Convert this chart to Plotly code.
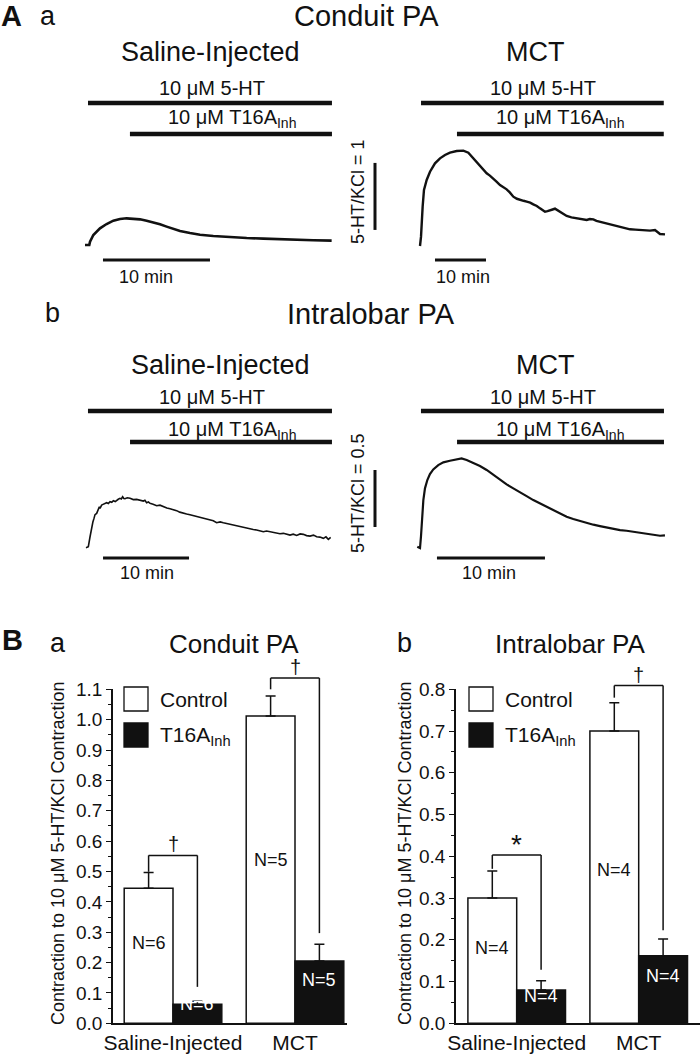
import plotly.graph_objects as go

W, H = 700, 1055
FONT = "Liberation Sans, Arial, Helvetica, sans-serif"
INK = "#111111"

# ---------------- Panel A data: isometric tension traces ----------------
# time in min from 5-HT addition, contraction as 5-HT/KCl ratio
aa_sal_time = [0, 0.40, 0.47, 0.78, 1.40, 2.02, 2.65, 3.27, 3.89, 4.52, 5.14, 5.76, 6.39, 7.01,
               7.63, 8.26, 8.88, 9.81, 10.75, 11.99, 13.55, 15.11, 16.67, 18.22, 19.78, 21.34, 23.05]
aa_sal_ratio = [0.0, 0.0, 0.05, 0.149, 0.249, 0.313, 0.363, 0.388, 0.398, 0.393, 0.383, 0.363, 0.338, 0.308,
                0.274, 0.239, 0.209, 0.179, 0.154, 0.134, 0.114, 0.104, 0.095, 0.085, 0.075, 0.070, 0.065]

aa_mct_time = [0, 0.20, 0.52, 0.78, 1.31, 1.96, 2.94, 3.92, 4.90, 5.88, 7.19, 8.50, 9.48, 10.46, 11.76,
               12.4, 13.07, 13.7, 14.38, 15.0, 15.69, 16.3, 16.99, 17.6, 18.30, 19.0, 19.61, 20.3, 20.92,
               21.6, 22.22, 22.9, 23.53, 24.0, 24.51, 25.0, 25.49, 26.0, 26.47, 27.0, 27.45, 28.1, 28.76,
               29.7, 30.72, 31.7, 32.68, 33.3, 33.99, 34.6, 35.29, 36.3, 37.25, 38.2, 39.22, 40.2, 41.18,
               42.2, 43.14, 44.1, 45.10, 46.08, 46.6, 47.06, 48.04]
aa_mct_ratio = [0.0, 0.139, 0.587, 0.836, 0.985, 1.109, 1.234, 1.308, 1.358, 1.393, 1.418, 1.423, 1.393,
                1.308, 1.184, 1.140, 1.085, 1.050, 1.010, 0.962, 0.910, 0.885, 0.846, 0.800, 0.736, 0.705,
                0.687, 0.675, 0.662, 0.648, 0.622, 0.598, 0.562, 0.540, 0.512, 0.520, 0.527, 0.545, 0.557,
                0.530, 0.512, 0.470, 0.448, 0.428, 0.413, 0.402, 0.388, 0.402, 0.398, 0.376, 0.363, 0.348,
                0.328, 0.312, 0.289, 0.268, 0.249, 0.244, 0.239, 0.236, 0.229, 0.239, 0.205, 0.179, 0.174]

ab_sal_time = [0, 0.15, 0.27, 0.47, 0.66, 0.80, 0.93, 1.05, 1.24, 1.35, 1.43, 1.55, 1.63, 1.72, 1.82, 1.92,
               2.02, 2.2, 2.40, 2.6, 2.79, 3.0, 3.18, 3.4, 3.57, 3.75, 3.95, 4.1, 4.26, 4.4, 4.53, 4.8,
               5.12, 5.5, 5.89, 6.3, 6.67, 6.85, 7.05, 7.25, 7.44, 7.8, 8.22, 8.6, 8.99, 9.4, 9.77, 10.1,
               10.54, 10.9, 11.32, 11.7, 12.09, 12.5, 12.87, 13.25, 13.64, 14.0, 14.42, 14.8, 15.19, 15.6,
               15.97, 16.35, 16.74, 17.1, 17.52, 17.9, 18.29, 18.7, 19.07, 19.45, 19.84, 20.2, 20.62, 21.0,
               21.40, 21.8, 22.17, 22.55, 22.95, 23.3, 23.72, 24.1, 24.50, 24.9, 25.27, 25.65, 26.05,
               26.45, 26.82, 27.2, 27.60, 27.9, 28.18, 28.45]
ab_sal_ratio = [0.0, 0.005, 0.009, 0.096, 0.184, 0.225, 0.257, 0.290, 0.301, 0.322, 0.325, 0.358, 0.345,
                0.365, 0.374, 0.378, 0.383, 0.392, 0.395, 0.388, 0.404, 0.398, 0.412, 0.405, 0.418, 0.425,
                0.433, 0.428, 0.447, 0.432, 0.430, 0.438, 0.433, 0.422, 0.424, 0.414, 0.409, 0.416, 0.395,
                0.401, 0.389, 0.382, 0.368, 0.373, 0.360, 0.348, 0.342, 0.336, 0.325, 0.312, 0.301, 0.296,
                0.289, 0.282, 0.272, 0.268, 0.257, 0.252, 0.243, 0.236, 0.219, 0.226, 0.219, 0.212, 0.208,
                0.199, 0.190, 0.186, 0.178, 0.172, 0.164, 0.160, 0.155, 0.147, 0.140, 0.146, 0.140, 0.134,
                0.132, 0.122, 0.126, 0.118, 0.111, 0.119, 0.108, 0.121, 0.117, 0.106, 0.102, 0.110, 0.096,
                0.093, 0.082, 0.095, 0.073, 0.091]

ab_mct_time = [0, 0.25, 0.34, 0.43, 0.56, 0.71, 0.93, 1.17, 1.48, 1.94, 2.41, 3.02, 3.64, 4.10, 4.57, 5.19,
               5.80, 6.42, 7.04, 7.65, 8.27, 8.89, 9.51, 10.12, 10.74, 11.36, 11.98, 12.59, 13.21, 13.83,
               14.44, 15.06, 15.68, 16.30, 16.91, 17.53, 18.15, 18.77, 19.38, 20.00, 20.62, 21.23, 21.85,
               22.47, 22.93]
ab_mct_ratio = [0.0, -0.012, 0.088, 0.263, 0.409, 0.512, 0.585, 0.637, 0.678, 0.716, 0.740, 0.754, 0.769,
                0.775, 0.760, 0.737, 0.708, 0.673, 0.629, 0.585, 0.547, 0.512, 0.474, 0.444, 0.409, 0.380,
                0.351, 0.322, 0.292, 0.263, 0.243, 0.225, 0.211, 0.193, 0.181, 0.170, 0.155, 0.146, 0.140,
                0.132, 0.123, 0.117, 0.105, 0.096, 0.099]

# drug application windows (min)
aa_sal_5ht, aa_sal_inh = [0.28, 23.08], [4.2, 23.08]
aa_mct_5ht, aa_mct_inh = [0.2, 47.8], [7.25, 47.8]
ab_sal_5ht, ab_sal_inh = [0.23, 28.6], [5.12, 28.6]
ab_mct_5ht, ab_mct_inh = [0.34, 22.84], [3.68, 22.84]

SCALE_TIME = 10          # min
SCALE_RATIO_A = 1.0      # 5-HT/KCl
SCALE_RATIO_B = 0.5

# ---------------- Panel B data: summary bars ----------------
groups = ["Saline-Injected", "MCT"]
group_pos = [0, 1]
ba_ctrl, ba_ctrl_err = [0.445, 1.012], [0.052, 0.066]
ba_inh, ba_inh_err = [0.063, 0.205], [0.010, 0.055]
bb_ctrl, bb_ctrl_err = [0.300, 0.700], [0.065, 0.068]
bb_inh, bb_inh_err = [0.080, 0.162], [0.022, 0.040]
ba_n_ctrl, ba_n_inh = [6, 5], [6, 5]
bb_n_ctrl, bb_n_inh = [4, 4], [4, 4]
ba_sig, bb_sig = ["†", "†"], ["*", "†"]
ba_bracket, bb_bracket = [0.553, 1.137], [0.403, 0.809]
ba_leg_ctrl, ba_leg_inh = [0.499, 1.100], [0.120, 0.297]
bb_leg_ctrl, bb_leg_inh = [0.370, 0.780], [0.128, 0.223]

# ---------------- helpers ----------------
def fx(px):
    return px / W

def fy(py):
    return 1 - py / H

fig = go.Figure()
layout = dict(width=W, height=H, autosize=False, margin=dict(l=0, r=0, t=0, b=0, pad=0, autoexpand=False),
              paper_bgcolor="white", plot_bgcolor="rgba(0,0,0,0)", showlegend=False,
              font=dict(family=FONT, color=INK), barmode="overlay")
shapes, anns = [], []

def ann(text, px, py, size, xanchor="center", yanchor="middle", angle=0, bold=False, color=INK):
    t = f"<b>{text}</b>" if bold else text
    anns.append(dict(text=t, x=fx(px), y=fy(py), xref="paper", yref="paper", showarrow=False,
                     xanchor=xanchor, yanchor=yanchor, textangle=angle,
                     font=dict(size=size, family=FONT, color=color)))

INH = "10 μM T16A<sub>Inh</sub>"

panels = [
    dict(i=1, t=aa_sal_time, v=aa_sal_ratio, box=(80, 340, 140, 275), origin=85, ppm=10.7, base=245, ppu=67,
         d5=aa_sal_5ht, di=aa_sal_inh, dy=(103, 134), sb=1.68, sby=260, lw=2.6),
    dict(i=2, t=aa_mct_time, v=aa_mct_ratio, box=(410, 670, 140, 275), origin=420, ppm=5.1, base=246, ppu=67,
         d5=aa_mct_5ht, di=aa_mct_inh, dy=(103, 134), sb=2.94, sby=260, lw=2.4),
    dict(i=3, t=ab_sal_time, v=ab_sal_ratio, box=(80, 340, 440, 575), origin=86, ppm=8.6, base=547.7, ppu=114,
         d5=ab_sal_5ht, di=ab_sal_inh, dy=(411, 442), sb=1.98, sby=558, lw=1.6),
    dict(i=4, t=ab_mct_time, v=ab_mct_ratio, box=(410, 670, 440, 575), origin=417.3, ppm=10.8, base=546.7, ppu=114,
         d5=ab_mct_5ht, di=ab_mct_inh, dy=(411, 442), sb=1.82, sby=558, lw=2.2),
]

for p in panels:
    i = p["i"]
    x0, x1, y0, y1 = p["box"]
    xa = dict(domain=[fx(x0), fx(x1)], range=[(x0 - p["origin"]) / p["ppm"], (x1 - p["origin"]) / p["ppm"]],
              visible=False, anchor=f"y{i}", fixedrange=True, automargin=False)
    ya = dict(domain=[fy(y1), fy(y0)], range=[(p["base"] - y1) / p["ppu"], (p["base"] - y0) / p["ppu"]],
              visible=False, anchor=f"x{i}", fixedrange=True, automargin=False)
    layout["xaxis" if i == 1 else f"xaxis{i}"] = xa
    layout["yaxis" if i == 1 else f"yaxis{i}"] = ya
    xr = "x" if i == 1 else f"x{i}"
    yr = "y" if i == 1 else f"y{i}"
    fig.add_trace(go.Scatter(x=p["t"], y=p["v"], mode="lines", line=dict(color=INK, width=p["lw"]),
                             xaxis=xr, yaxis=yr, hoverinfo="skip"))
    for win, py in ((p["d5"], p["dy"][0]), (p["di"], p["dy"][1])):
        shapes.append(dict(type="line", xref=xr, yref="paper", x0=win[0], x1=win[1], y0=fy(py), y1=fy(py),
                           line=dict(color=INK, width=4.5)))
    shapes.append(dict(type="line", xref=xr, yref="paper", x0=p["sb"], x1=p["sb"] + SCALE_TIME,
                       y0=fy(p["sby"]), y1=fy(p["sby"]), line=dict(color=INK, width=3)))

shapes.append(dict(type="line", xref="paper", yref="y2", x0=fx(375), x1=fx(375), y0=0.24, y1=0.24 + SCALE_RATIO_A,
                   line=dict(color=INK, width=3)))
shapes.append(dict(type="line", xref="paper", yref="y4", x0=fx(375), x1=fx(375), y0=0.173, y1=0.173 + SCALE_RATIO_B,
                   line=dict(color=INK, width=3)))
ann("5-HT/KCl = 1", 358, 192, 18, angle=-90)
ann("5-HT/KCl = 0.5", 358, 493, 18, angle=-90)

ann("A", 11, 16, 29, bold=True)
ann("a", 48, 16, 27)
ann("Conduit PA", 366, 16, 29)
ann("b", 52, 313, 27)
ann("Intralobar PA", 371, 314, 29)
for (cx, cy, txt) in [(210, 52, "Saline-Injected"), (535, 52, "MCT"), (220, 365, "Saline-Injected"), (545, 365, "MCT")]:
    ann(txt, cx, cy, 27)
for (c5, ci, y5, yi) in [(212, 232, 88, 119), (543, 560, 88, 119), (212, 232, 397, 430), (543, 560, 397, 430)]:
    ann("10 μM 5-HT", c5, y5, 20)
    ann(INH, ci, yi, 20)
for (cx, cy) in [(146, 277), (463, 277), (147, 573), (489, 573)]:
    ann("10 min", cx, cy, 18)

# ---------------- Panel B bar charts ----------------
bar_panels = [
    dict(i=5, ctrl=ba_ctrl, ce=ba_ctrl_err, inh=ba_inh, ie=ba_inh_err, nc=ba_n_ctrl, ni=ba_n_inh,
         sig=ba_sig, br=ba_bracket, lc=ba_leg_ctrl, li=ba_leg_inh, xpx=(113, 347), center0=173,
         yr=[0, 1.1], ytop=689.3, ybot=1023.3, nc_py=[955, 872], ni_py=[1016, 992],
         title="Conduit PA", tcx=234, lab="a", lcx=58, leg_x=124, ytitle_x=58),
    dict(i=6, ctrl=bb_ctrl, ce=bb_ctrl_err, inh=bb_inh, ie=bb_inh_err, nc=bb_n_ctrl, ni=bb_n_inh,
         sig=bb_sig, br=bb_bracket, lc=bb_leg_ctrl, li=bb_leg_inh, xpx=(456, 700), center0=516.7,
         yr=[0, 0.8], ytop=689.3, ybot=1023.3, nc_py=[960, 882], ni_py=[1008, 988],
         title="Intralobar PA", tcx=570, lab="b", lcx=404, leg_x=469, ytitle_x=405),
]
PPU_X = 122.0

for b in bar_panels:
    i = b["i"]
    xr, yr = f"x{i}", f"y{i}"
    xl, xh = b["xpx"]

    def ypaper(v, b=b):
        # same linear scale as the bar y-axis, in paper units (lets brackets sit above the range)
        return fy(b["ybot"] - (v - b["yr"][0]) / (b["yr"][1] - b["yr"][0]) * (b["ybot"] - b["ytop"]))

    layout[f"xaxis{i}"] = dict(domain=[fx(xl), fx(xh)],
                               range=[(xl - b["center0"]) / PPU_X, (xh - b["center0"]) / PPU_X],
                               anchor=yr, showline=True, linecolor=INK, linewidth=1.5, ticks="",
                               tickvals=group_pos, ticktext=groups, tickfont=dict(size=21, family=FONT, color=INK),
                               showgrid=False, zeroline=False, fixedrange=True, automargin=False)
    layout[f"yaxis{i}"] = dict(domain=[fy(b["ybot"]), fy(b["ytop"])], range=b["yr"], anchor=xr,
                               showline=True, linecolor=INK, linewidth=1.5, ticks="outside", ticklen=5,
                               tickwidth=1.3, tickcolor=INK, dtick=0.1, tick0=0, tickformat=".1f",
                               tickfont=dict(size=19, family=FONT, color=INK), showgrid=False, zeroline=False,
                               minor=dict(dtick=0.05, ticks="outside", ticklen=3, tickwidth=1, tickcolor=INK),
                               fixedrange=True, automargin=False)
    fig.add_trace(go.Bar(x=group_pos, y=b["ctrl"], width=0.4, offset=-0.4, xaxis=xr, yaxis=yr,
                         marker=dict(color="white", line=dict(color=INK, width=1.5)),
                         error_y=dict(type="data", symmetric=False, array=b["ce"], arrayminus=[0, 0],
                                      color=INK, thickness=1.5, width=5), hoverinfo="skip"))
    fig.add_trace(go.Bar(x=group_pos, y=b["inh"], width=0.4, offset=0, xaxis=xr, yaxis=yr,
                         marker=dict(color=INK, line=dict(color=INK, width=1.5)),
                         error_y=dict(type="data", symmetric=False, array=b["ie"], arrayminus=[0, 0],
                                      color=INK, thickness=1.5, width=5), hoverinfo="skip"))
    for g in range(2):
        xc, xi = group_pos[g] - 0.2, group_pos[g] + 0.2
        for (a0, a1, c0, c1) in [(xc, xc, b["lc"][g], b["br"][g]), (xc, xi, b["br"][g], b["br"][g]),
                                 (xi, xi, b["br"][g], b["li"][g])]:
            shapes.append(dict(type="line", xref=xr, yref="paper", x0=a0, x1=a1, y0=ypaper(c0), y1=ypaper(c1),
                               line=dict(color=INK, width=1.5)))
        star = b["sig"][g] == "*"
        anns.append(dict(text=b["sig"][g], x=group_pos[g], y=ypaper(b["br"][g]), xref=xr, yref="paper",
                         showarrow=False, xanchor="center", yanchor="bottom", yshift=-7 if star else -2,
                         font=dict(size=28 if star else 20, family=FONT, color=INK)))
        anns.append(dict(text=f"N={b['nc'][g]}", x=xc, y=fy(b["nc_py"][g]), xref=xr, yref="paper",
                         showarrow=False, font=dict(size=18, family=FONT, color=INK)))
        anns.append(dict(text=f"N={b['ni'][g]}", x=xi, y=fy(b["ni_py"][g]), xref=xr, yref="paper",
                         showarrow=False, font=dict(size=18, family=FONT, color="white")))
    lx = b["leg_x"]
    shapes.append(dict(type="rect", xref="paper", yref="paper", x0=fx(lx), x1=fx(lx + 24), y0=fy(711), y1=fy(687),
                       line=dict(color=INK, width=1.3), fillcolor="white"))
    shapes.append(dict(type="rect", xref="paper", yref="paper", x0=fx(lx), x1=fx(lx + 24), y0=fy(747), y1=fy(723),
                       line=dict(color=INK, width=1.3), fillcolor=INK))
    ann("Control", lx + 34, 699, 21, xanchor="left")
    ann("T16A<sub>Inh</sub>", lx + 34, 736, 21, xanchor="left")
    ann(b["title"], b["tcx"], 644, 26)
    ann(b["lab"], b["lcx"], 643, 27)
    ann("Contraction to 10 μM 5-HT/KCl Contraction", b["ytitle_x"], 853, 18, angle=-90)

ann("B", 12, 640, 29, bold=True)

layout["shapes"] = shapes
layout["annotations"] = anns
fig.update_layout(**layout)
# remove the browser's default 8px body margin so the 700x1055 figure fills the window exactly
fig.write_html("out.html", config={"displayModeBar": False},
               post_script="document.body.style.margin='0px';")
